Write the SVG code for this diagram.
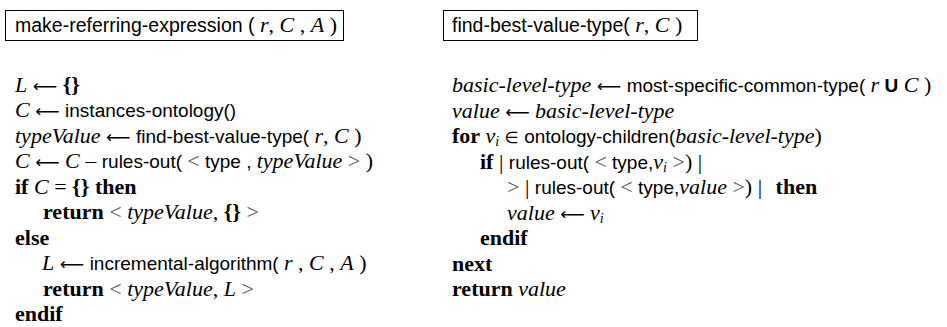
<svg xmlns="http://www.w3.org/2000/svg" width="947" height="327" viewBox="0 0 947 327">
<style>
text{font-family:"Liberation Serif","Times New Roman",serif;font-size:22px;fill:#000}
.s{font-family:"Liberation Sans",Arial,sans-serif;font-size:19px}
.h{font-family:"Liberation Sans",Arial,sans-serif;font-size:19.5px}
.i{font-style:italic}
.b{font-weight:bold}
.g{fill:#555}
.a{font-family:"DejaVu Sans",sans-serif;font-size:17px}
.e{font-family:"DejaVu Sans",sans-serif;font-size:16px}
.sub{font-size:14px;font-style:italic}
.box{fill:#fff;stroke:#000;stroke-width:1}
</style>
<rect width="947" height="327" fill="#fff"/>
<g id="header-make-referring-expression">
<rect class="box" x="5.5" y="10.5" width="338" height="30"/>
<text x="15" y="32"><tspan class="h">make-referring-expression ( </tspan><tspan class="i">r</tspan>, <tspan class="i">C</tspan> , <tspan class="i">A</tspan> )</text>
</g>
<g id="header-find-best-value-type">
<rect class="box" x="443.5" y="10.5" width="254" height="30"/>
<text x="452" y="32"><tspan class="h">find-best-value-type( </tspan><tspan class="i">r</tspan>, <tspan class="i">C</tspan> )</text>
</g>
<g id="code-make-referring-expression">
<text x="15" y="92"><tspan class="i">L</tspan> <tspan class="a">⟵</tspan> <tspan class="b">{}</tspan></text>
<text x="15" y="117"><tspan class="i">C</tspan> <tspan class="a">⟵</tspan> <tspan class="s">instances-ontology()</tspan></text>
<text x="15" y="142.5"><tspan class="i">typeValue</tspan> <tspan class="a">⟵</tspan> <tspan class="s">find-best-value-type( </tspan><tspan class="i">r</tspan>, <tspan class="i">C</tspan> )</text>
<text x="15" y="168"><tspan class="i">C</tspan> <tspan class="a">⟵</tspan> <tspan class="i">C</tspan> – <tspan class="s">rules-out( </tspan><tspan class="g">&lt;</tspan><tspan class="s"> type , </tspan><tspan class="i">typeValue</tspan><tspan class="g"> &gt;</tspan> )</text>
<text x="15" y="193.5"><tspan class="b">if</tspan> <tspan class="i">C</tspan> = <tspan class="b">{} then</tspan></text>
<text x="43" y="219"><tspan class="b">return</tspan> <tspan class="g">&lt;</tspan> <tspan class="i">typeValue</tspan>, <tspan class="b">{}</tspan> <tspan class="g">&gt;</tspan></text>
<text x="15" y="244.5" class="b">else</text>
<text x="42" y="270"><tspan class="i">L</tspan> <tspan class="a">⟵</tspan> <tspan class="s">incremental-algorithm( </tspan><tspan class="i">r</tspan> , <tspan class="i">C</tspan> , <tspan class="i">A</tspan> )</text>
<text x="43" y="295.5"><tspan class="b">return</tspan> <tspan class="g">&lt;</tspan> <tspan class="i">typeValue</tspan>, <tspan class="i">L</tspan> <tspan class="g">&gt;</tspan></text>
<text x="15" y="321" class="b">endif</text>
</g>
<g id="code-find-best-value-type">
<text x="452" y="92"><tspan class="i">basic-level-type</tspan> <tspan class="a">⟵</tspan> <tspan class="s">most-specific-common-type( </tspan><tspan class="i">r</tspan> <tspan class="s b">U</tspan> <tspan class="i">C</tspan> )</text>
<text x="452" y="117.5"><tspan class="i">value</tspan> <tspan class="a">⟵</tspan> <tspan class="i">basic-level-type</tspan></text>
<text x="452" y="143"><tspan class="b">for</tspan> <tspan class="i">v</tspan><tspan class="sub" dy="3">i</tspan><tspan dy="-3"> </tspan><tspan class="e">∈</tspan> <tspan class="s">ontology-children(</tspan><tspan class="i">basic-level-type</tspan>)</text>
<text x="480" y="168.5"><tspan class="b">if</tspan> | <tspan class="s">rules-out( </tspan><tspan class="g">&lt;</tspan><tspan class="s"> type,</tspan><tspan class="i">v</tspan><tspan class="sub" dy="3">i</tspan><tspan class="g" dy="-3"> &gt;</tspan>) |</text>
<text x="507" y="194"><tspan class="g">&gt;</tspan> | <tspan class="s">rules-out( </tspan><tspan class="g">&lt;</tspan><tspan class="s"> type,</tspan><tspan class="i">value</tspan><tspan class="g"> &gt;</tspan>) | <tspan class="b" dx="8">then</tspan></text>
<text x="507" y="219.5"><tspan class="i">value</tspan> <tspan class="a">⟵</tspan> <tspan class="i">v</tspan><tspan class="sub" dy="3">i</tspan></text>
<text x="480" y="245" class="b">endif</text>
<text x="452" y="270.5" class="b">next</text>
<text x="452" y="296"><tspan class="b">return</tspan> <tspan class="i">value</tspan></text>
</g>
</svg>
